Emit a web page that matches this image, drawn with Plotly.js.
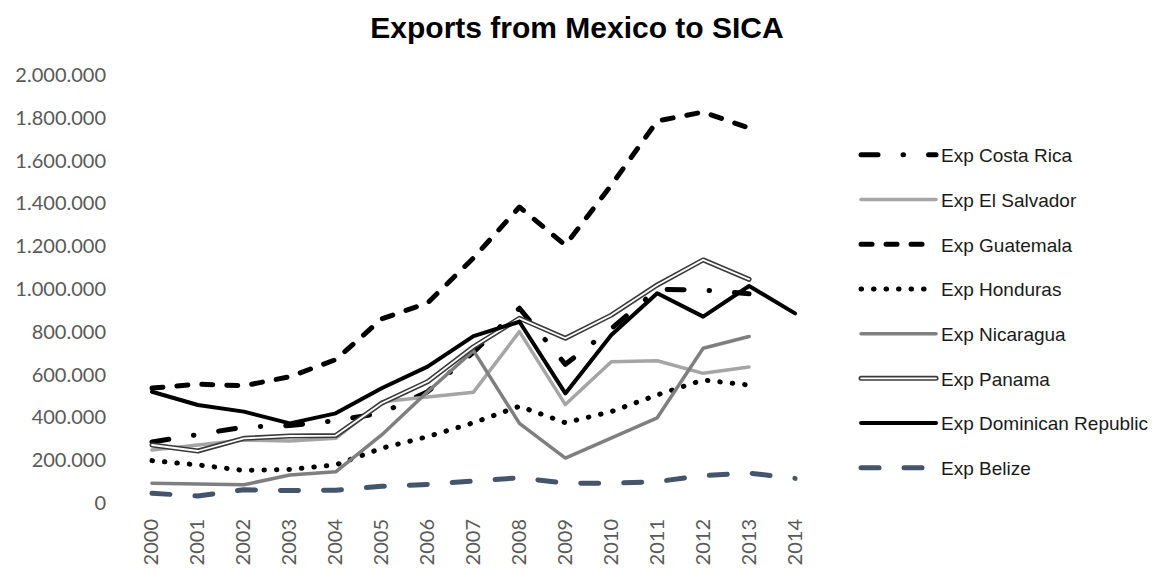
<!DOCTYPE html>
<html>
<head>
<meta charset="utf-8">
<script src="https://cdn.plot.ly/plotly-3.0.1.min.js"></script>
<style>
html,body{margin:0;padding:0;background:#fff;}
#chart{width:1154px;height:569px;}
path.js-line{stroke-linecap:round;stroke-linejoin:round;}
</style>
</head>
<body>
<div id="chart"></div>
<script>
const years = ['2000','2001','2002','2003','2004','2005','2006','2007','2008','2009','2010','2011','2012','2013','2014'];
const costaRica = [285000, 320000, 355000, 362000, 385000, 420000, 520000, 705000, 910000, 648000, 815000, 998000, 995000, 978000, null];
const elSalvador = [248000, 271000, 294000, 290000, 302000, 473000, 497000, 518000, 801000, 460000, 660000, 665000, 606000, 636000, null];
const guatemala = [537000, 555000, 548000, 590000, 670000, 860000, 935000, 1145000, 1383000, 1205000, 1485000, 1785000, 1827000, 1752000, null];
const honduras = [198000, 178000, 152000, 157000, 178000, 256000, 310000, 375000, 452000, 375000, 427000, 505000, 575000, 551000, null];
const nicaragua = [92000, 87000, 85000, 131000, 146000, 318000, 520000, 712000, 372000, 210000, 302000, 398000, 723000, 778000, null];
const panama = [271000, 243000, 302000, 313000, 315000, 466000, 567000, 730000, 863000, 770000, 878000, 1019000, 1136000, 1045000, null];
const dominicanRep = [520000, 458000, 427000, 372000, 419000, 536000, 637000, 780000, 847000, 512000, 785000, 980000, 871000, 1014000, 886000];
const belize = [45000, 33000, 62000, 58000, 60000, 78000, 87000, 100000, 118000, 93000, 92000, 100000, 128000, 140000, 115000];
const yTicks = [0, 200000, 400000, 600000, 800000, 1000000, 1200000, 1400000, 1600000, 1800000, 2000000];

function tr(name, y, color, width, dash, group, extra) {
  return Object.assign({
    type: 'scatter', mode: 'lines', name: name, x: years, y: y,
    line: {color: color, width: width, dash: dash},
    legendgroup: group, hoverinfo: 'x+y+name'
  }, extra || {});
}

const data = [
  tr('Exp Costa Rica', costaRica, '#000000', 5, '17px,25px,0.5px,25px', 'g1'),
  tr('Exp El Salvador', elSalvador, '#A5A5A5', 3.5, 'solid', 'g2'),
  tr('Exp Guatemala', guatemala, '#000000', 5, '11px,14px', 'g3'),
  tr('Exp Honduras', honduras, '#000000', 5, '0.5px,12px', 'g4'),
  tr('Exp Nicaragua', nicaragua, '#7F7F7F', 3.5, 'solid', 'g5'),
  tr('Exp Panama', panama, '#3A3A3A', 5, 'solid', 'g6'),
  tr('Exp Panama core', panama, '#FFFFFF', 1.8, 'solid', 'g6', {showlegend: false, hoverinfo: 'skip'}),
  tr('Exp Dominican Republic', dominicanRep, '#000000', 4, 'solid', 'g7'),
  tr('Exp Belize', belize, '#44546A', 5, '18px,25px', 'g8')
];

const tickFont = {family: 'Lato, "Liberation Sans", sans-serif', size: 20, color: '#595959'};

const layout = {
  width: 1154, height: 569,
  paper_bgcolor: '#ffffff', plot_bgcolor: '#ffffff',
  separators: ',.',
  margin: {l: 129, r: 336, t: 75, b: 66},
  title: {
    text: '<b>Exports from Mexico to SICA</b>',
    font: {family: '"Liberation Sans", Arial, sans-serif', size: 30, color: '#000000'},
    xref: 'container', x: 0.5, xanchor: 'center',
    yref: 'container', y: 0.9525, yanchor: 'middle'
  },
  xaxis: {
    type: 'category', categoryorder: 'array', categoryarray: years,
    range: [-0.5, 14.5],
    showgrid: false, zeroline: false, showline: false, ticks: '',
    tickangle: -90, tickfont: tickFont, ticklabelstandoff: 11
  },
  yaxis: {
    range: [0, 2000000], tickvals: yTicks, tickformat: ',d',
    showgrid: false, zeroline: false, showline: false, ticks: '',
    tickfont: tickFont, ticklabelstandoff: 22
  },
  legend: {
    xref: 'container', yref: 'container',
    x: 0.7418, xanchor: 'left', y: 0.761, yanchor: 'top',
    maxheight: 1000,
    font: {family: '"Liberation Sans", Arial, sans-serif', size: 19, color: '#1a1a1a'},
    itemwidth: 75, tracegroupgap: 17, traceorder: 'grouped',
    bgcolor: 'rgba(0,0,0,0)'
  },
  showlegend: true
};

Plotly.newPlot('chart', data, layout, {displayModeBar: false, staticPlot: true}).then(function(gd) {
  gd.querySelectorAll('.legend .traces').forEach(function(it) {
    const t = it.querySelector('.legendtext');
    if (t && t.textContent === 'Exp Panama') {
      const p = it.querySelector('path.js-line');
      if (p) {
        const c = p.cloneNode(true);
        c.style.stroke = '#ffffff';
        c.style.strokeWidth = '1.8px';
        p.parentNode.appendChild(c);
      }
    }
  });
});
</script>
</body>
</html>
